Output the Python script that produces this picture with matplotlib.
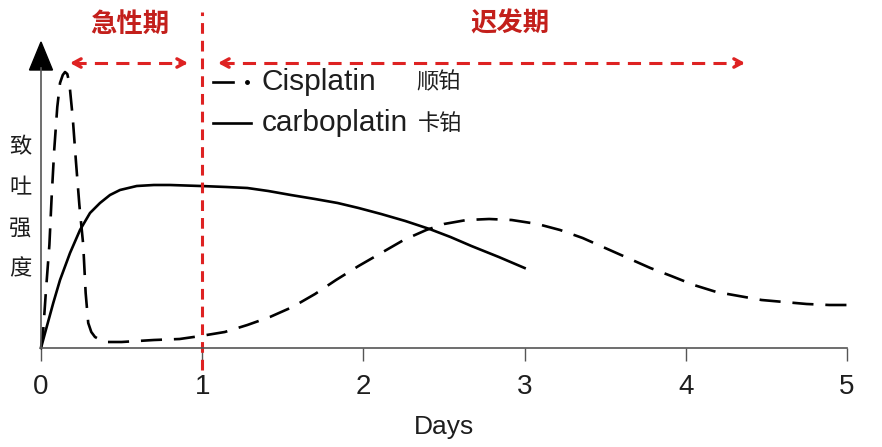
import matplotlib.pyplot as plt
from matplotlib.patches import Polygon

plt.rcParams['font.family'] = ['Liberation Sans', 'Noto Sans CJK SC', 'DejaVu Sans']

# ---- data (days, relative emetic intensity) ----
cis_days = [0.0, 0.014, 0.031, 0.052, 0.066, 0.082, 0.101, 0.118, 0.135, 0.149, 0.163,
            0.176, 0.197, 0.217, 0.238, 0.262, 0.277, 0.293, 0.312, 0.335, 0.37, 0.408,
            0.50, 0.60, 0.70, 0.86, 0.99, 1.14, 1.28, 1.42, 1.56,
            1.70, 1.83, 1.97, 2.11, 2.25, 2.39, 2.50, 2.64, 2.78, 2.92, 3.08, 3.22,
            3.36, 3.50, 3.64, 3.78, 3.91, 4.05, 4.19, 4.33, 4.47, 4.61, 4.75, 4.89, 5.05]
cis_vals = [0, 18, 58, 103, 151, 198, 241, 265, 273, 276, 274,
            265, 230, 186, 143, 103, 55, 25, 16, 11, 8, 6,
            6, 7, 8, 9, 12, 16, 23, 31, 41,
            54, 68, 82, 95, 108, 118, 124, 128, 129, 128, 124, 118,
            110, 100, 90, 80, 72, 63, 56, 52, 48, 46, 44, 43, 43]

carbo_days = [0.0, 0.025, 0.076, 0.118, 0.18, 0.242, 0.304, 0.366, 0.428, 0.49, 0.594,
              0.70, 0.80, 0.99, 1.15, 1.28, 1.41, 1.55, 1.70, 1.84, 1.97, 2.11,
              2.26, 2.41, 2.54, 2.67, 2.84, 3.0]
carbo_vals = [0, 15, 45, 68, 95, 118, 135, 145, 153, 158, 162,
              163, 163, 162, 161, 160, 157, 153, 149, 145, 140, 134,
              127, 119, 111, 102, 91, 80]

day_ticks = [0, 1, 2, 3, 4, 5]
acute_end = 1.0

RED = '#de2222'
RED_TXT = '#c31f1b'
GRAY = '#555555'
INK = '#1e1e1e'

fig = plt.figure(figsize=(8.82, 4.47), dpi=100)
W, H = 882, 447
x0, x5, ybase = 41, 847, 348
ax = fig.add_axes([x0 / W, (H - ybase) / H, (x5 - x0) / W, ybase / H])
ax.set_xlim(0, 5)
ax.set_ylim(0, ybase)

# curves
ax.plot(cis_days, cis_vals, color='black', lw=1.9, dashes=(8, 4.5),
        solid_capstyle='butt', clip_on=False)
ax.plot(carbo_days, carbo_vals, color='black', lw=1.9, clip_on=False)

# axes
for s in ['top', 'right']:
    ax.spines[s].set_visible(False)
ax.spines['bottom'].set_color(GRAY)
ax.spines['bottom'].set_linewidth(1.2)
ax.spines['left'].set_color(GRAY)
ax.spines['left'].set_linewidth(1.2)
ax.spines['left'].set_bounds(0, 280)
ax.set_yticks([])
ax.set_xticks(day_ticks)
ax.tick_params(axis='x', direction='out', length=9.5, width=1, color=GRAY,
               pad=9, labelsize=20, labelcolor=INK)

# y arrow head
dx = 11.5 * 5 / (x5 - x0)
ax.add_patch(Polygon([(-dx, 278), (dx, 278), (0, 306)], closed=True,
                     facecolor='black', edgecolor='black', clip_on=False))

# labels
ax.text(2.5, -79, 'Days', ha='center', va='center', fontsize=19, color=INK)
for i, ch in enumerate('致吐强度'):
    ax.text(-0.13, 201 - i * 40.5, ch, ha='center', va='center', fontsize=16,
            color=INK, family=['Noto Sans CJK SC'])

# acute / delayed phase markers
ax.plot([acute_end, acute_end], [-22, 336], color=RED, lw=2.2, dashes=(3.5, 2.3),
        clip_on=False)


def dashed_double_arrow(xa, xb, y):
    ax.plot([xa + 0.02, xb - 0.02], [y, y], color=RED, lw=2.2, dashes=(4.3, 2.7),
            clip_on=False)
    for tip, tail in [(xa, xa + 0.05), (xb, xb - 0.05)]:
        ax.annotate('', xy=(tip, y), xytext=(tail, y),
                    arrowprops=dict(arrowstyle='->,head_length=0.55,head_width=0.3',
                                    color=RED, lw=2.4, shrinkA=0, shrinkB=0),
                    annotation_clip=False)


dashed_double_arrow(0.18, 0.912, 285)
dashed_double_arrow(1.098, 4.367, 285)

ax.text(0.55, 324, '急性期', ha='center', va='center', fontsize=19, fontweight='bold',
        color=RED_TXT, family=['Noto Sans CJK SC'])
ax.text(2.91, 324, '迟发期', ha='center', va='center', fontsize=19, fontweight='bold',
        color=RED_TXT, family=['Noto Sans CJK SC'])

# legend (hand placed like the original)
ax.plot([1.068, 1.19], [266, 266], color='black', lw=1.9, clip_on=False)
ax.plot([1.28], [266], marker='o', ms=2.5, color='black', clip_on=False)
ax.text(1.37, 266, 'Cisplatin', ha='left', va='center', fontsize=21.5, color=INK)
ax.text(2.33, 266, '顺铂', ha='left', va='center', fontsize=16, color=INK,
        family=['Noto Sans CJK SC'])
ax.plot([1.068, 1.30], [225, 225], color='black', lw=1.9, clip_on=False)
ax.text(1.37, 225, 'carboplatin', ha='left', va='center', fontsize=21.5, color=INK)
ax.text(2.34, 225, '卡铂', ha='left', va='center', fontsize=16, color=INK,
        family=['Noto Sans CJK SC'])

fig.savefig('out.png', dpi=100)
